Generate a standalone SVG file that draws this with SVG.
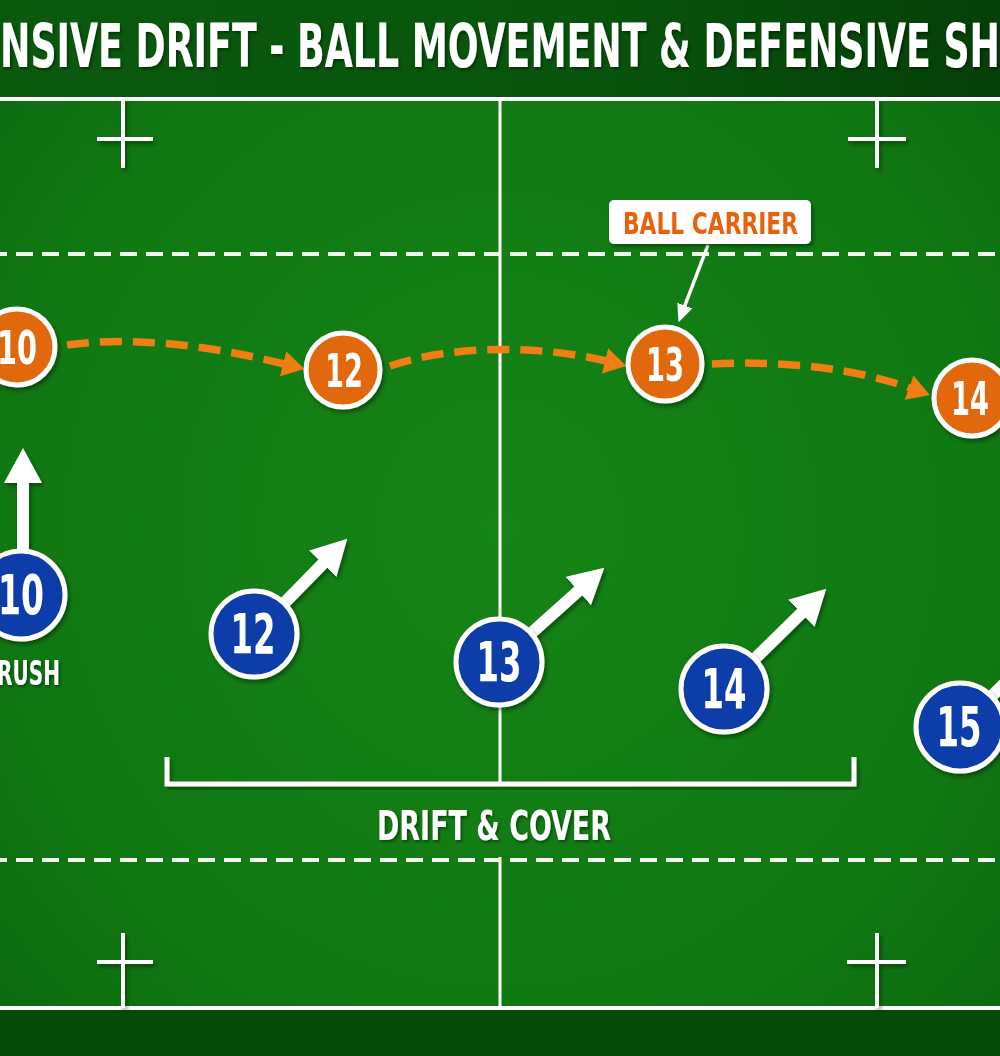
<svg xmlns="http://www.w3.org/2000/svg" width="1000" height="1056" viewBox="0 0 1000 1056">
  <defs>
    <radialGradient id="fieldGrad" cx="50%" cy="50%" r="70%">
      <stop offset="0" stop-color="#158416"/>
      <stop offset="0.7" stop-color="#107812"/>
      <stop offset="1" stop-color="#0b690f"/>
    </radialGradient>
    <linearGradient id="titleGrad" x1="0" y1="0" x2="1" y2="0">
      <stop offset="0" stop-color="#0a5a0e"/>
      <stop offset="0.6" stop-color="#08540c"/>
      <stop offset="1" stop-color="#053f08"/>
    </linearGradient>
    <filter id="sh" x="-20%" y="-20%" width="140%" height="140%">
      <feDropShadow dx="2" dy="3" stdDeviation="2" flood-color="#000" flood-opacity="0.4"/>
    </filter>
    <filter id="tsh" x="-10%" y="-20%" width="120%" height="140%">
      <feDropShadow dx="1.5" dy="2" stdDeviation="1.5" flood-color="#000" flood-opacity="0.45"/>
    </filter>
    <marker id="whiteHead" viewBox="0 0 35 38" refX="1" refY="19" markerWidth="35" markerHeight="38" markerUnits="userSpaceOnUse" orient="auto">
      <path d="M0,0 L35,19 L0,38 z" fill="#ffffff"/>
    </marker>
    <marker id="orangeHead" viewBox="0 0 22 26" refX="1" refY="13" markerWidth="22" markerHeight="26" markerUnits="userSpaceOnUse" orient="auto">
      <path d="M0,0 L22,13 L0,26 z" fill="#f07e12"/>
    </marker>
    <marker id="pointerHead" viewBox="0 0 18 16" refX="1" refY="8" markerWidth="18" markerHeight="16" markerUnits="userSpaceOnUse" orient="auto">
      <path d="M0,0 L18,8 L0,16 z" fill="#ffffff"/>
    </marker>
  </defs>
  <style>
    .cond { font-family: "DejaVu Sans Condensed", "Liberation Sans Narrow", "DejaVu Sans", Roboto, sans-serif; font-weight: bold; font-stretch: condensed; }
    .line { stroke: #ffffff; fill: none; }
    .dash { stroke: #f4f4f0; stroke-width: 4; stroke-dasharray: 17 9; fill: none; }
    .orange circle { fill: #e2680f; stroke: #ffffff; stroke-width: 5; }
    .blue circle { fill: #0b3ca8; stroke: #ffffff; stroke-width: 5; }
    .num { fill: #ffffff; text-anchor: middle; }
    .pass { stroke: #f07e12; stroke-width: 7.5; stroke-dasharray: 22 11; fill: none; }
    .run { stroke: #ffffff; stroke-width: 12; fill: none; }
    .lbl { fill: #ffffff; }
  </style>

  <!-- background -->
  <rect x="0" y="0" width="1000" height="1056" fill="url(#fieldGrad)"/>
  <rect x="0" y="0" width="1000" height="97" fill="url(#titleGrad)"/>
  <rect x="0" y="1010" width="1000" height="46" fill="#064a09"/>

  <!-- field markings -->
  <g id="field-markings">
    <line class="line" x1="0" y1="99" x2="1000" y2="99" stroke-width="4"/>
    <line class="line" x1="0" y1="1008" x2="1000" y2="1008" stroke-width="4"/>
    <line class="line" x1="500" y1="99" x2="500" y2="783" stroke-width="3"/>
    <line class="line" x1="500" y1="857" x2="500" y2="1008" stroke-width="3"/>
    <line class="dash" x1="-10" y1="254" x2="1010" y2="254"/>
    <line class="dash" x1="-10" y1="860" x2="1010" y2="860"/>
    <!-- crosses -->
    <g filter="url(#sh)">
      <line class="line" x1="123" y1="99" x2="123" y2="168" stroke-width="4"/>
      <line class="line" x1="97" y1="139" x2="153" y2="139" stroke-width="4"/>
      <line class="line" x1="877" y1="99" x2="877" y2="168" stroke-width="4"/>
      <line class="line" x1="848" y1="139" x2="906" y2="139" stroke-width="4"/>
      <line class="line" x1="123" y1="933" x2="123" y2="1008" stroke-width="4"/>
      <line class="line" x1="97" y1="962" x2="153" y2="962" stroke-width="4"/>
      <line class="line" x1="877" y1="933" x2="877" y2="1008" stroke-width="4"/>
      <line class="line" x1="847" y1="962" x2="906" y2="962" stroke-width="4"/>
    </g>
  </g>

  <!-- title -->
  <g id="title">
    <text class="cond" x="0" y="67" font-size="60" fill="#ffffff" filter="url(#tsh)" textLength="1000" lengthAdjust="spacingAndGlyphs">NSIVE DRIFT - BALL MOVEMENT &amp; DEFENSIVE SH</text>
  </g>

  <!-- connectors -->
  <g id="connectors">
    <g id="passes">
      <path class="pass" d="M67 345 C140 335, 220 348, 284 364" marker-end="url(#orangeHead)"/>
      <path class="pass" d="M390 366 C450 345, 540 345, 606 361" marker-end="url(#orangeHead)"/>
      <path class="pass" d="M712 364 C790 360, 860 370, 910 388" marker-end="url(#orangeHead)"/>
    </g>
    <g id="runs" filter="url(#sh)">
      <line class="run" x1="23" y1="595" x2="23" y2="482" marker-end="url(#whiteHead)"/>
      <line class="run" x1="254" y1="634" x2="323.5" y2="563" marker-end="url(#whiteHead)"/>
      <line class="run" x1="499" y1="662" x2="579" y2="590.4" marker-end="url(#whiteHead)"/>
      <line class="run" x1="724" y1="689" x2="802" y2="612.5" marker-end="url(#whiteHead)"/>
      <line class="run" x1="960" y1="727" x2="1040" y2="649"/>
    </g>
    <line id="pointer" x1="708" y1="245" x2="684.5" y2="306.5" stroke="#ffffff" stroke-width="3.5" marker-end="url(#pointerHead)"/>
  </g>

  <!-- bracket -->
  <g id="drift-bracket" filter="url(#sh)">
    <path class="line" d="M167 757 V784 H854 V757" stroke-width="5"/>
  </g>

  <!-- attackers -->
  <g id="attack-10" class="orange" filter="url(#sh)">
    <circle cx="17" cy="347" r="38"/>
    <text class="cond num" x="17" y="364" font-size="47" textLength="40" lengthAdjust="spacingAndGlyphs">10</text>
  </g>
  <g id="attack-12" class="orange" filter="url(#sh)">
    <circle cx="343" cy="370" r="37"/>
    <text class="cond num" x="344" y="387" font-size="47" textLength="38" lengthAdjust="spacingAndGlyphs">12</text>
  </g>
  <g id="attack-13" class="orange" filter="url(#sh)">
    <circle cx="665" cy="364" r="37"/>
    <text class="cond num" x="665" y="381" font-size="47" textLength="38" lengthAdjust="spacingAndGlyphs">13</text>
  </g>
  <g id="attack-14" class="orange" filter="url(#sh)">
    <circle cx="972" cy="398" r="38"/>
    <text class="cond num" x="970" y="415" font-size="47" textLength="38" lengthAdjust="spacingAndGlyphs">14</text>
  </g>

  <!-- defenders -->
  <g id="defend-10" class="blue" filter="url(#sh)">
    <circle cx="21" cy="595" r="44"/>
    <text class="cond num" x="21" y="614" font-size="55" textLength="46" lengthAdjust="spacingAndGlyphs">10</text>
  </g>
  <g id="defend-12" class="blue" filter="url(#sh)">
    <circle cx="254" cy="634" r="43"/>
    <text class="cond num" x="253" y="653" font-size="55" textLength="45" lengthAdjust="spacingAndGlyphs">12</text>
  </g>
  <g id="defend-13" class="blue" filter="url(#sh)">
    <circle cx="499" cy="662" r="43"/>
    <text class="cond num" x="499" y="681" font-size="55" textLength="45" lengthAdjust="spacingAndGlyphs">13</text>
  </g>
  <g id="defend-14" class="blue" filter="url(#sh)">
    <circle cx="724" cy="689" r="43"/>
    <text class="cond num" x="724" y="708" font-size="55" textLength="45" lengthAdjust="spacingAndGlyphs">14</text>
  </g>
  <g id="defend-15" class="blue" filter="url(#sh)">
    <circle cx="960" cy="727" r="44"/>
    <text class="cond num" x="959" y="746" font-size="55" textLength="45" lengthAdjust="spacingAndGlyphs">15</text>
  </g>

  <!-- labels -->
  <g id="label-ball-carrier" filter="url(#sh)">
    <rect x="609" y="200" width="202" height="44" rx="5" fill="#ffffff"/>
    <text class="cond" x="623" y="234" font-size="30" fill="#e8620f" textLength="175" lengthAdjust="spacingAndGlyphs">BALL CARRIER</text>
  </g>
  <g id="label-rush">
    <text class="cond lbl" x="-3" y="685" font-size="34" filter="url(#tsh)" textLength="63" lengthAdjust="spacingAndGlyphs">RUSH</text>
  </g>
  <g id="label-drift-cover">
    <text class="cond lbl" x="377" y="840" font-size="41" filter="url(#tsh)" textLength="234" lengthAdjust="spacingAndGlyphs">DRIFT &amp; COVER</text>
  </g>
</svg>
